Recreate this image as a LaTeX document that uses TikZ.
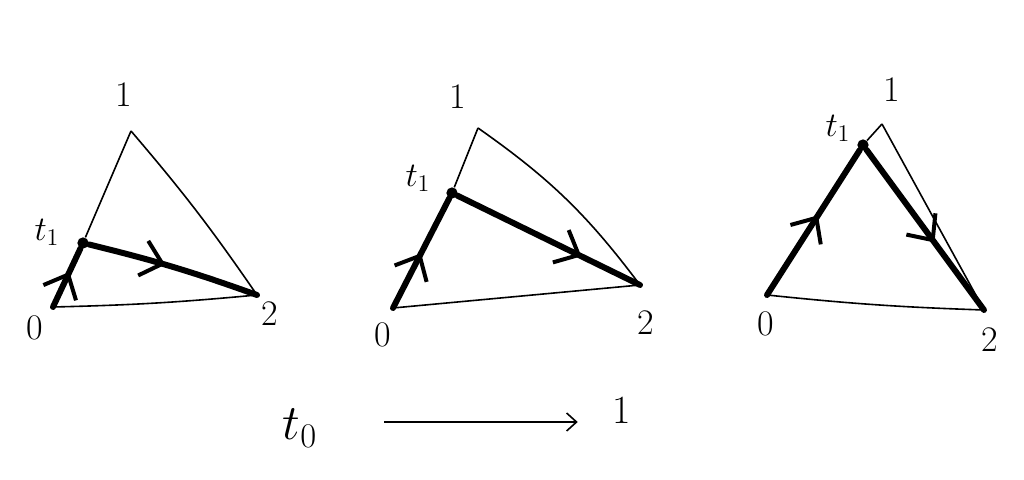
\documentclass[tikz,border=0pt]{standalone}
\usetikzlibrary{arrows.meta}
\usetikzlibrary{decorations.markings}

\tikzset{
  thinedge/.style={line width=0.8pt},
  walk/.style={line width=3pt,line cap=round},
  midarrow/.style={postaction={decorate},
    decoration={markings,mark=at position #1 with {\arrow[line width=2pt]{Straight Barb[length=10pt,width=18pt]}}}},
  vlabel/.style={font=\fontsize{18}{21}\selectfont},
  dot/.style={circle,fill,inner sep=2pt},
}

\begin{document}
\begin{tikzpicture}[x=0.5pt,y=-0.5pt]
      \useasboundingbox[fill=white] (0,0) rectangle (1024,480);
      % left triangle
      \coordinate (a0) at (53,307);
      \coordinate (a1) at (131,131);
      \coordinate (a2) at (257,295);
      \node[dot] (at) at (83,243) {};
      \node[vlabel] (la0) at (35,328) {0};
      \node[vlabel] (la1) at (124,95)  {1};
      \node[vlabel] (la2) at (270,314) {2};
      \node[vlabel] (lat) at (47,232)  {$t_1$};

      \draw[thinedge] (at) -- (a1);
      \draw[thinedge] (a1) to[bend left=3] (a2);
      \draw[thinedge] (a0) to[bend right=2] (a2);
      \draw[walk,midarrow=0.6]  (a0) -- (at);
      \draw[walk,midarrow=0.45] (at) to[bend left=3] (a2);

      % middle triangle
      \coordinate (b0) at (393,308);
      \coordinate (b1) at (478,128);
      \coordinate (b2) at (640,285);
      \node[dot] (bt) at (452,193) {};
      \node[vlabel] (lb0) at (383,335) {0};
      \node[vlabel] (lb1) at (458,97)  {1};
      \node[vlabel] (lb2) at (646,323) {2};
      \node[vlabel] (lbt) at (418,178) {$t_1$};

      \draw[thinedge] (bt) -- (b1);
      \draw[thinedge] (b1) to[bend left=9] (b2);
      \draw[thinedge] (b0) -- (b2);
      \draw[walk,midarrow=0.5]  (b0) -- (bt);
      \draw[walk,midarrow=0.68] (bt) -- (b2);

      % right triangle
      \coordinate (c0) at (767,295);
      \coordinate (c1) at (882,124);
      \coordinate (c2) at (984,310);
      \node[dot] (ct) at (863,145) {};
      \node[vlabel] (lc0) at (766,324) {0};
      \node[vlabel] (lc1) at (892,90)  {1};
      \node[vlabel] (lc2) at (990,340) {2};
      \node[vlabel] (lct) at (838,128) {$t_1$};

      \draw[thinedge] (ct) -- (c1);
      \draw[thinedge] (c1) -- (c2);
      \draw[thinedge] (c0) to[bend right=2] (c2);
      \draw[walk,midarrow=0.55] (c0) -- (ct);
      \draw[walk,midarrow=0.58] (ct) -- (c2);

      % parameter
      \node[font=\fontsize{24}{28}\selectfont] (tzero) at (300,428) {$t_0$};
      \node[font=\fontsize{20}{24}\selectfont] (tone) at (622,410) {1};
      \draw[thinedge,-{Straight Barb[length=5pt,width=9pt]},shorten <=30pt,shorten >=14pt]
        ([yshift=3pt]tzero.east) -- ([yshift=3pt]tzero.east -| tone.west);
    \end{tikzpicture}
\end{document}
